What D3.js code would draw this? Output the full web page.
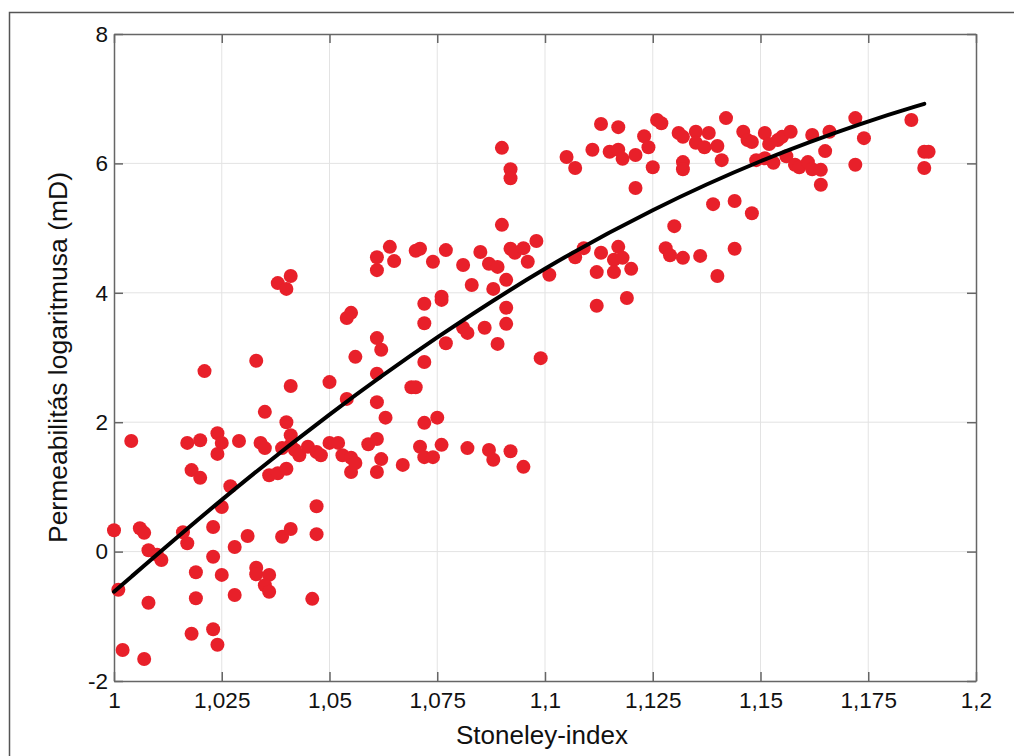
<!DOCTYPE html>
<html>
<head>
<meta charset="utf-8">
<script src="https://cdn.jsdelivr.net/npm/d3@7"></script>
<style>
  body { margin: 0; background: #fff; }
  svg { display: block; }
</style>
</head>
<body>
<svg id="chart" width="1014" height="756"></svg>
<script>
// tick values and labels (comma decimal separator as in the original)
const xTicks = [1, 1.025, 1.05, 1.075, 1.1, 1.125, 1.15, 1.175, 1.2];
const xTickLabels = ["1", "1,025", "1,05", "1,075", "1,1", "1,125", "1,15", "1,175", "1,2"];
const yTicks = [-2, 0, 2, 4, 6, 8];
const yTickLabels = ["-2", "0", "2", "4", "6", "8"];

// measured points: Stoneley-index vs log permeability
const stoneley = [
  1.000, 1.006, 1.007, 1.008, 1.011, 1.010, 1.001, 1.008, 1.002, 1.007,
  1.016, 1.017, 1.023, 1.025, 1.023, 1.019, 1.019, 1.018, 1.023, 1.024,
  1.025, 1.028, 1.031, 1.028, 1.033, 1.033, 1.036, 1.035, 1.036, 1.039,
  1.041, 1.046, 1.047, 1.047,
  1.004, 1.017, 1.020, 1.024, 1.025, 1.024, 1.029, 1.018, 1.020, 1.027,
  1.035, 1.040, 1.041, 1.050, 1.054, 1.034, 1.035, 1.039, 1.041, 1.041,
  1.042, 1.043, 1.045, 1.047, 1.048, 1.050, 1.052, 1.053, 1.055, 1.036,
  1.038, 1.040,
  1.061, 1.063, 1.069, 1.070, 1.072, 1.075, 1.055, 1.056, 1.059, 1.061,
  1.062, 1.061, 1.067, 1.071, 1.072, 1.074, 1.076, 1.082, 1.087, 1.088,
  1.092, 1.095,
  1.021, 1.033, 1.038, 1.040, 1.041, 1.054, 1.055, 1.061, 1.062, 1.056,
  1.061, 1.061, 1.061, 1.064, 1.065,
  1.090, 1.070, 1.071, 1.074, 1.077, 1.081, 1.085, 1.087, 1.089, 1.083,
  1.088, 1.091, 1.092, 1.093, 1.095, 1.096, 1.098, 1.072, 1.076, 1.076,
  1.072, 1.091, 1.086, 1.081, 1.082, 1.091, 1.089, 1.077, 1.099, 1.072,
  1.107, 1.109, 1.101, 1.113, 1.112, 1.117, 1.116, 1.118, 1.116, 1.120,
  1.112, 1.119, 1.130, 1.128, 1.129, 1.132, 1.136, 1.140, 1.144, 1.139,
  1.144, 1.148,
  1.090, 1.092, 1.092, 1.105, 1.107, 1.111, 1.113, 1.117, 1.115, 1.117,
  1.118, 1.121, 1.123, 1.124, 1.125, 1.121, 1.126, 1.127, 1.131, 1.132,
  1.135, 1.138, 1.132, 1.132, 1.135, 1.137, 1.140, 1.141, 1.142, 1.146,
  1.147, 1.148, 1.151, 1.152, 1.154, 1.155, 1.157, 1.149, 1.151, 1.153,
  1.156, 1.158, 1.159, 1.161, 1.162, 1.164, 1.164, 1.162, 1.166, 1.165,
  1.172, 1.174, 1.172, 1.185, 1.188, 1.189, 1.188
];
const logPerm = [
  0.33, 0.36, 0.29, 0.02, -0.13, -0.05, -0.59, -0.79, -1.52, -1.66,
  0.30, 0.13, 0.38, 0.69, -0.08, -0.32, -0.72, -1.27, -1.20, -1.44,
  -0.36, 0.07, 0.24, -0.67, -0.25, -0.35, -0.36, -0.52, -0.62, 0.23,
  0.35, -0.73, 0.27, 0.70,
  1.71, 1.68, 1.72, 1.83, 1.68, 1.51, 1.71, 1.26, 1.14, 1.01,
  2.16, 2.00, 2.56, 2.62, 2.36, 1.68, 1.60, 1.60, 1.80, 1.65,
  1.57, 1.49, 1.62, 1.54, 1.49, 1.68, 1.68, 1.49, 1.23, 1.18,
  1.21, 1.28,
  2.31, 2.07, 2.54, 2.54, 1.99, 2.07, 1.45, 1.37, 1.66, 1.74,
  1.43, 1.23, 1.34, 1.62, 1.46, 1.46, 1.65, 1.60, 1.57, 1.42,
  1.55, 1.31,
  2.79, 2.95, 4.15, 4.06, 4.26, 3.61, 3.69, 3.30, 3.12, 3.01,
  2.75, 4.35, 4.55, 4.71, 4.49,
  5.05, 4.65, 4.68, 4.48, 4.66, 4.43, 4.63, 4.45, 4.40, 4.12,
  4.06, 4.20, 4.68, 4.62, 4.69, 4.48, 4.80, 3.83, 3.89, 3.94,
  3.53, 3.77, 3.46, 3.46, 3.38, 3.52, 3.21, 3.22, 2.99, 2.93,
  4.55, 4.69, 4.28, 4.62, 4.32, 4.71, 4.51, 4.54, 4.32, 4.37,
  3.80, 3.92, 5.03, 4.69, 4.58, 4.54, 4.57, 4.26, 4.68, 5.37,
  5.42, 5.23,
  6.24, 5.91, 5.77, 6.10, 5.93, 6.21, 6.61, 6.56, 6.18, 6.21,
  6.07, 6.13, 6.42, 6.25, 5.94, 5.62, 6.67, 6.62, 6.47, 6.41,
  6.49, 6.47, 6.02, 5.91, 6.32, 6.25, 6.27, 6.05, 6.70, 6.49,
  6.36, 6.33, 6.47, 6.30, 6.36, 6.41, 6.49, 6.05, 6.08, 6.01,
  6.11, 5.98, 5.94, 6.02, 5.91, 5.90, 5.67, 6.44, 6.49, 6.19,
  6.70, 6.39, 5.98, 6.67, 6.18, 6.18, 5.93
];

// fitted trend curve
const fitX = [1, 1.025, 1.05, 1.075, 1.1, 1.125, 1.15, 1.175, 1.188];
const fitY = [-0.62, 0.82, 2.14, 3.33, 4.40, 5.30, 6.06, 6.66, 6.92];

const svg = d3.select("#chart");
const margin = {left: 114, top: 34, right: 38, bottom: 75};
const W = 1014, H = 756;
const innerW = W - margin.left - margin.right;
const innerH = H - margin.top - margin.bottom;
const font = "Liberation Sans, Arial, Helvetica, sans-serif";
const axisColor = "#666";

// outer frame around the figure
svg.append("rect")
    .attr("x", 9.5).attr("y", 12.5)
    .attr("width", 1030).attr("height", 760)
    .attr("fill", "none")
    .attr("stroke", "#555")
    .attr("stroke-width", 1.5);

const x = d3.scaleLinear().domain([1, 1.2]).range([0, innerW]);
const y = d3.scaleLinear().domain([-2, 8]).range([innerH, 0]);

const g = svg.append("g").attr("transform", `translate(${margin.left},${margin.top})`);

// grid
g.append("g").selectAll("line.vg")
    .data(xTicks.slice(1, -1))
    .enter().append("line")
    .attr("x1", d => x(d)).attr("x2", d => x(d))
    .attr("y1", 0).attr("y2", innerH)
    .attr("stroke", "#e3e3e3").attr("stroke-width", 1);
g.append("g").selectAll("line.hg")
    .data(yTicks.slice(1, -1))
    .enter().append("line")
    .attr("x1", 0).attr("x2", innerW)
    .attr("y1", d => y(d)).attr("y2", d => y(d))
    .attr("stroke", "#e3e3e3").attr("stroke-width", 1);

// axes, ticks pointing inward
const xAxis = d3.axisBottom(x).tickValues(xTicks)
    .tickFormat((d, i) => xTickLabels[i]).tickSizeInner(-9).tickSizeOuter(0).tickPadding(11);
const yAxis = d3.axisLeft(y).tickValues(yTicks)
    .tickFormat((d, i) => yTickLabels[i]).tickSizeInner(-9).tickSizeOuter(0).tickPadding(6);
const xTop = d3.axisTop(x).tickValues(xTicks).tickFormat("").tickSizeInner(-9).tickSizeOuter(0);
const yRight = d3.axisRight(y).tickValues(yTicks).tickFormat("").tickSizeInner(-9).tickSizeOuter(0);

const styleAxis = sel => {
    sel.selectAll("path, line").attr("stroke", axisColor).attr("stroke-width", 1.5);
    sel.selectAll("text").attr("fill", "#111").attr("font-family", font).attr("font-size", 22.5);
};

g.append("g").attr("transform", `translate(0,${innerH})`).call(xAxis).call(styleAxis);
g.append("g").call(yAxis).call(styleAxis);
g.append("g").call(xTop).call(styleAxis);
g.append("g").attr("transform", `translate(${innerW},0)`).call(yRight).call(styleAxis);

// points
const pts = stoneley.map((s, i) => ({s: s, p: logPerm[i]}));
g.append("g").selectAll("circle")
    .data(pts)
    .enter().append("circle")
    .attr("cx", d => x(d.s))
    .attr("cy", d => y(d.p))
    .attr("r", 7)
    .attr("fill", "#e8202a");

// trend line
const line = d3.line()
    .x(d => x(d[0]))
    .y(d => y(d[1]))
    .curve(d3.curveBasis);
g.append("path")
    .datum(fitX.map((v, i) => [v, fitY[i]]))
    .attr("d", line)
    .attr("fill", "none")
    .attr("stroke", "#000")
    .attr("stroke-width", 4)
    .attr("stroke-linecap", "round");

// axis titles
svg.append("text")
    .attr("x", margin.left + innerW / 2 - 3)
    .attr("y", 744)
    .attr("text-anchor", "middle")
    .attr("font-family", font)
    .attr("font-size", 26)
    .attr("fill", "#111")
    .text("Stoneley-index");

svg.append("text")
    .attr("transform", `translate(67,${margin.top + innerH / 2}) rotate(-90)`)
    .attr("text-anchor", "middle")
    .attr("font-family", font)
    .attr("font-size", 26.5)
    .attr("fill", "#111")
    .text("Permeabilitás logaritmusa (mD)");
</script>
</body>
</html>
